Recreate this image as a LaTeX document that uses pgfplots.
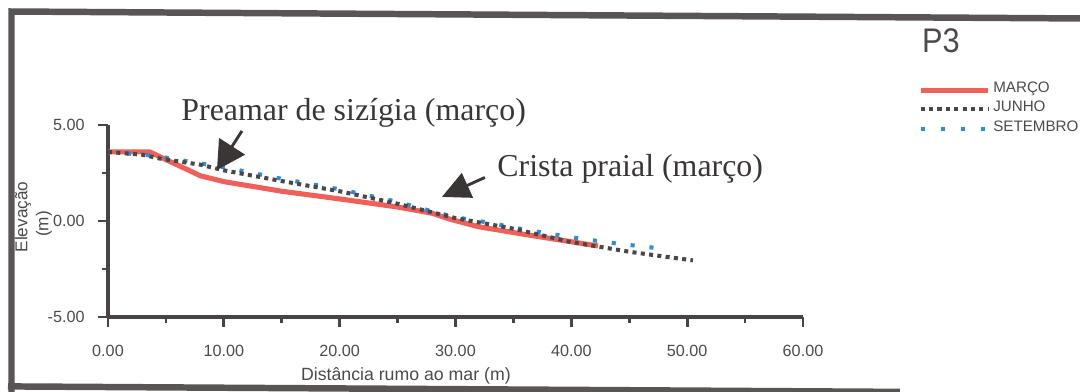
\documentclass[border=0pt]{standalone}
\usepackage{fontspec}
\setmainfont{Liberation Serif}
\newfontfamily\arial{Liberation Sans}
\usepackage{pgfplots}
\pgfplotsset{compat=1.18}
\usetikzlibrary{arrows.meta}

\definecolor{framec}{RGB}{90,85,85}
\definecolor{axisc}{RGB}{72,68,68}
\definecolor{txt}{RGB}{78,74,74}
\definecolor{anno}{RGB}{58,54,54}
\definecolor{marco}{RGB}{240,95,88}
\definecolor{junho}{RGB}{72,72,75}
\definecolor{setem}{RGB}{45,140,220}

\begin{document}
\begin{tikzpicture}
\useasboundingbox (0,0) rectangle (15cm,5.4306cm);
\clip (0,0) rectangle (15cm,5.4306cm);
\begin{axis}[
  at={(1.5cm,1.0278cm)}, anchor=south west,
  scale only axis, width=9.653cm, height=2.6667cm,
  xmin=0, xmax=60, ymin=-5, ymax=5,
  axis lines*=left,
  axis line style={axisc, line width=1.2pt},
  xtick={0,10,20,30,40,50,60}, ytick={-5,0,5},
  minor x tick num=1, minor y tick num=1,
  tick align=outside,
  major tick length=0.14cm, minor tick length=0.08cm,
  tick style={axisc, line width=1.1pt},
  tick label style={font=\arial\fontsize{6.4}{7}\selectfont, text=txt},
  xticklabel style={yshift=-0.125cm},
  yticklabel style={xshift=-0.06cm},
  /pgf/number format/fixed,
  /pgf/number format/fixed zerofill,
  /pgf/number format/precision=2,
  /pgf/number format/assume math mode=true,
]
\addplot[marco, line width=2pt, line join=round] coordinates {
 (0,3.6) (3.6,3.6) (5,3.2) (8,2.35) (10,2.05) (15,1.55) (20,1.15)
 (25,0.73) (28,0.4) (29.5,0.1) (32,-0.3) (36,-0.7) (42.3,-1.3)
};
\addplot[setem, line width=1.6pt, dash pattern=on 1.6pt off 5.9pt] coordinates {
 (0,3.6) (4,3.4) (8,3.0) (10,2.8) (15,2.2) (20,1.65) (25,1.0) (28,0.5)
 (30,0.2) (33,-0.1) (36,-0.45) (40,-0.85) (44,-1.18) (48,-1.45)
};
\addplot[junho, line width=1.6pt, dash pattern=on 1.6pt off 1.7pt] coordinates {
 (0,3.6) (3,3.45) (4.5,3.25) (8,2.93) (10,2.64) (15,2.08) (20,1.55)
 (25,0.9) (28,0.45) (30,0.15) (35,-0.4) (40,-1.1) (45,-1.6) (48,-1.85) (50.5,-2.05)
};
\end{axis}
\begin{scope}[x=0.0138889cm, y=-0.0138889cm, yshift=5.4306cm]
  % frame
  \draw[framec, line width=0.09cm, line join=miter] (11.5,395) -- (11.5,11.5) -- (1085,18.5);
  \draw[framec, line width=0.09cm] (8,386.5) -- (900,392);
  % axis labels
  \node[rotate=90, inner sep=0, font=\arial\fontsize{6.8}{7}\selectfont, text=txt] at (23,217) {Elevação};
  \node[rotate=90, inner sep=0, font=\arial\fontsize{6.8}{7}\selectfont, text=txt] at (44,224) {(m)};
  \node[inner sep=0, font=\arial\fontsize{7}{8}\selectfont, text=txt] at (406,376) {Distância rumo ao mar (m)};
  % title
  \node[anchor=base west, inner sep=0, xscale=0.9, font=\arial\fontsize{13.5}{14}\selectfont, text=txt] at (922,53) {P3};
  % legend
  \draw[marco, line width=0.07cm] (921,90.5) -- (988,90.5);
  \draw[junho, line width=0.056cm, dash pattern=on 0.056cm off 0.06cm] (921,109.5) -- (988,109.5);
  \draw[setem, line width=0.056cm, dash pattern=on 0.056cm off 0.222cm] (921,129) -- (988,129);
  \node[anchor=base west, inner sep=0, font=\arial\fontsize{6.0}{7}\selectfont, text=txt] at (993,93) {MARÇO};
  \node[anchor=base west, inner sep=0, font=\arial\fontsize{6.0}{7}\selectfont, text=txt] at (993,112) {JUNHO};
  \node[anchor=base west, inner sep=0, font=\arial\fontsize{6.0}{7}\selectfont, text=txt] at (993,132) {SETEMBRO};
  % annotations
  \node[anchor=base west, inner sep=0, font=\fontsize{12.6}{14}\selectfont, text=anno] at (181,121) {Preamar de sizígia (março)};
  \node[anchor=base west, inner sep=0, font=\fontsize{12.6}{14}\selectfont, text=anno] at (497,177) {Crista praial (março)};
  \draw[anno, line width=0.04cm, -{Triangle[length=0.39cm,width=0.42cm]}] (242,131) -- (217,170);
  \draw[anno, line width=0.04cm, -{Triangle[length=0.39cm,width=0.37cm]}] (485,177.5) -- (442,197);
\end{scope}
\end{tikzpicture}
\end{document}
